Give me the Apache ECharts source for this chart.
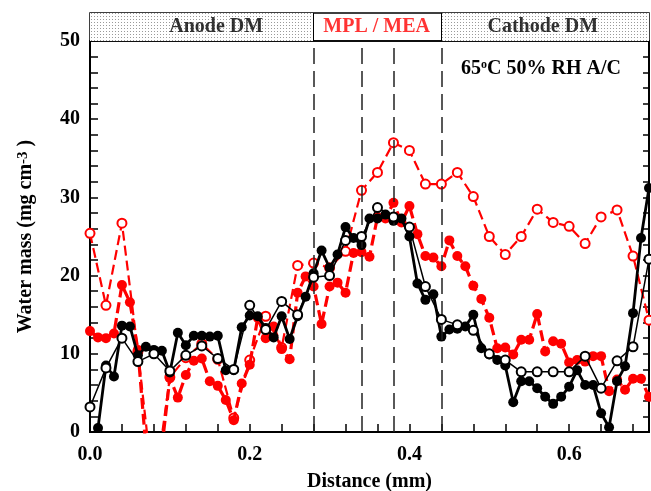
<!DOCTYPE html>
<html>
<head>
<meta charset="utf-8">
<script src="https://cdn.jsdelivr.net/npm/echarts@6/dist/echarts.min.js"></script>
<style>
  html, body { margin: 0; padding: 0; background: #fff; }
  #chart { width: 651px; height: 491px; }
</style>
</head>
<body>
<div id="chart"></div>
<script>
// distances (mm) for the 0.01 mm profiles
const xRedFilled = [0.00, 0.01, 0.02, 0.03, 0.04, 0.05, 0.06, 0.07, 0.08, 0.09,
  0.10, 0.11, 0.12, 0.13, 0.14, 0.15, 0.16, 0.17, 0.18, 0.19,
  0.20, 0.21, 0.22, 0.23, 0.24, 0.25, 0.26, 0.27, 0.28, 0.29,
  0.30, 0.31, 0.32, 0.33, 0.34, 0.35, 0.36, 0.37, 0.38, 0.39,
  0.40, 0.41, 0.42, 0.43, 0.44, 0.45, 0.46, 0.47, 0.48, 0.49,
  0.50, 0.51, 0.52, 0.53, 0.54, 0.55, 0.56, 0.57, 0.58, 0.59,
  0.60, 0.61, 0.62, 0.63, 0.64, 0.65, 0.66, 0.67, 0.68, 0.69, 0.70];
const xBlackFilled = xRedFilled.slice(1);
// distances (mm) for the 0.02 mm profiles
const xOpen = [0.00, 0.02, 0.04, 0.06, 0.08, 0.10, 0.12, 0.14, 0.16, 0.18,
  0.20, 0.22, 0.24, 0.26, 0.28, 0.30, 0.32, 0.34, 0.36, 0.38,
  0.40, 0.42, 0.44, 0.46, 0.48, 0.50, 0.52, 0.54, 0.56, 0.58,
  0.60, 0.62, 0.64, 0.66, 0.68, 0.70];

// water mass (mg cm-3)
const blackFilled = [0.5, 8.5, 7.1, 13.6, 13.5, 9.8, 10.9, 10.5, 10.4,
  7.6, 12.7, 11.1, 12.3, 12.3, 12.2, 12.3, 7.9, 7.9, 13.4,
  14.9, 14.8, 13.3, 12.1, 14.8, 11.9, 14.8, 17.3, 20.3, 23.2,
  21.0, 22.7, 26.2, 24.8, 23.9, 27.3, 27.3, 27.8, 27.0, 27.3,
  25.0, 19.0, 16.9, 17.6, 12.2, 13.1, 13.2, 13.5, 15.0, 10.7,
  9.9, 9.2, 8.5, 3.8, 6.5, 6.5, 5.6, 4.5, 3.6, 4.5,
  5.8, 7.9, 6.0, 6.0, 2.4, 0.6, 6.5, 8.4, 15.2, 24.8, 31.2];
const blackOpen = [3.2, 8.2, 12.0, 9.0, 10.0, 7.8, 9.8, 11.0, 9.4, 8.0,
  16.2, 13.1, 16.7, 15.0, 19.8, 20.0, 24.5, 25.0, 28.7, 27.5,
  26.2, 18.6, 14.4, 13.7, 13.0, 10.0, 9.2, 7.7, 7.7, 7.7,
  7.7, 9.7, 5.6, 9.1, 10.9, 22.1];
const redFilled = [12.9, 12.1, 12.0, 12.6, 18.8, 16.6, 10.5, -2, -10, -2,
  6.9, 4.4, 7.3, 9.1, 9.4, 6.5, 5.9, 4.1, 1.5, 6.2,
  8.6, 14.6, 12.0, 13.5, 10.6, 9.3, 17.8, 19.9, 18.6, 13.8,
  18.6, 19.1, 17.8, 22.9, 23.0, 22.4, 27.5, 27.3, 29.3, 26.8,
  28.9, 25.3, 22.5, 22.3, 21.2, 24.5, 22.5, 21.2, 18.7, 17.0,
  14.6, 10.7, 10.8, 9.9, 11.8, 11.8, 15.1, 10.3, 11.6, 11.3,
  8.9, 9.2, 9.0, 9.7, 9.7, 5.2, 6.7, 5.4, 6.8, 6.8, 4.5];
const redOpen = [25.4, 16.2, 26.7, 10.3, -8, 7.0, 9.5, 11.3, 9.3, 1.8,
  9.2, 14.8, 10.8, 21.3, 21.6, 21.0, 23.1, 30.9, 33.2, 37.0,
  36.0, 31.7, 31.7, 33.2, 30.1, 25.0, 22.7, 25.0, 28.5, 26.8,
  26.3, 24.1, 27.5, 28.4, 22.5, 14.3];

// region boundaries and header
const dashedX = [0.28, 0.34, 0.38, 0.44];
const regionEdges = [0.28, 0.44];
const headerNames = ['Anode DM', 'MPL / MEA', 'Cathode DM'];
const headerCenters = [0.158, 0.359, 0.567];
const headerColors = ['#000', '#ff0000', '#000'];

const FONT = '"Liberation Serif", "Times New Roman", serif';
const RED = '#ff0000';

const pair = (xs, ys) => xs.map((x, i) => [x, ys[i]]);

// small dotted texture for the DM header cells
const dots = document.createElement('canvas');
dots.width = 3;
dots.height = 3;
const dctx = dots.getContext('2d');
dctx.fillStyle = '#fff';
dctx.fillRect(0, 0, 3, 3);
dctx.fillStyle = '#9a9a9a';
dctx.fillRect(1, 1, 1, 1);

const chart = echarts.init(document.getElementById('chart'), null, { renderer: 'canvas' });

const boldText = { fontFamily: FONT, fontWeight: 'bold', fontSize: 20, color: '#000' };

chart.setOption({
  animation: false,
  backgroundColor: '#fff',
  title: {
    text: '{a|65}{s|o}{a|C 50% RH A/C}',
    left: 456,
    top: 54,
    textStyle: {
      rich: {
        a: { ...boldText },
        s: { fontFamily: FONT, fontWeight: 'bold', fontSize: 12, color: '#000', verticalAlign: 'top' },
      },
    },
  },
  grid: [
    { left: 90, right: 2, top: 41, bottom: 59, outerBoundsMode: 'none', containLabel: false,
      show: true, borderColor: '#000', borderWidth: 1.5 },
    { left: 90, right: 2, top: 13, height: 28, outerBoundsMode: 'none', containLabel: false,
      show: true, borderColor: '#000', borderWidth: 1.5, backgroundColor: 'transparent' },
  ],
  xAxis: [
    {
      type: 'value',
      gridIndex: 0,
      min: 0,
      max: 0.7,
      interval: 0.04,
      axisLine: { lineStyle: { color: '#000', width: 2 } },
      axisTick: { inside: true, length: 8, lineStyle: { color: '#000', width: 1.5 } },
      axisLabel: {
        ...boldText,
        margin: 13,
        formatter(v) {
          const k = v * 5;
          return Math.abs(k - Math.round(k)) < 1e-6 ? v.toFixed(1) : '';
        },
      },
      splitLine: { show: false },
      name: 'Distance (mm)',
      nameLocation: 'middle',
      nameGap: 40,
      nameTextStyle: { ...boldText },
    },
    { type: 'value', gridIndex: 1, min: 0, max: 0.7, show: false },
  ],
  yAxis: [
    {
      type: 'value',
      gridIndex: 0,
      min: 0,
      max: 50,
      interval: 10,
      axisLine: { show: true, lineStyle: { color: '#000', width: 2 } },
      axisTick: { inside: true, length: 8, lineStyle: { color: '#000', width: 1.5 } },
      minorTick: { show: true, splitNumber: 5, length: 8, lineStyle: { color: '#000', width: 1.5 } },
      axisLabel: { ...boldText, margin: 10 },
      splitLine: { show: false },
      name: 'Water mass (mg cm{s|-3}{a| )}',
      nameLocation: 'middle',
      nameGap: 54,
      nameTextStyle: {
        ...boldText,
        rich: {
          a: { ...boldText },
          s: { fontFamily: FONT, fontWeight: 'bold', fontSize: 15, color: '#000', verticalAlign: 'top' },
        },
      },
    },
    {
      type: 'value',
      gridIndex: 0,
      position: 'right',
      min: 0,
      max: 50,
      interval: 10,
      axisLine: { show: true, lineStyle: { color: '#000', width: 2 } },
      axisTick: { inside: true, length: 6, lineStyle: { color: '#000', width: 1.5 } },
      minorTick: { show: true, splitNumber: 5, length: 6, lineStyle: { color: '#000', width: 1.5 } },
      axisLabel: { show: false },
      splitLine: { show: false },
    },
    { type: 'value', gridIndex: 1, min: 0, max: 1, show: false },
  ],
  series: [
    {
      name: 'header',
      type: 'scatter',
      xAxisIndex: 1,
      yAxisIndex: 2,
      symbolSize: 0,
      silent: true,
      z: 5,
      data: headerNames.map((n, i) => ({
        name: n,
        value: [headerCenters[i], 0.5],
        label: { color: headerColors[i] },
      })),
      label: {
        show: true,
        position: 'inside',
        formatter: (p) => p.name,
        fontFamily: FONT,
        fontWeight: 'bold',
        fontSize: 20,
      },
      markArea: {
        silent: true,
        itemStyle: { color: { image: dots, repeat: 'repeat' } },
        label: { show: false },
        data: [
          [{ xAxis: 0 }, { xAxis: regionEdges[0] }],
          [{ xAxis: regionEdges[1] }, { xAxis: 0.7 }],
        ],
      },
      markLine: {
        silent: true,
        symbol: 'none',
        label: { show: false },
        lineStyle: { color: '#000', width: 1, type: 'solid' },
        data: regionEdges.map((x) => ({ xAxis: x })),
      },
    },
    {
      name: 'boundaries',
      type: 'line',
      data: [],
      markLine: {
        silent: true,
        symbol: 'none',
        label: { show: false },
        lineStyle: { color: '#222', width: 1.5, type: [16, 7] },
        data: dashedX.map((x) => ({ xAxis: x })),
      },
    },
    {
      name: 'red open',
      type: 'line',
      data: pair(xOpen, redOpen),
      symbol: 'emptyCircle',
      symbolSize: 9,
      lineStyle: { color: RED, width: 2.2, type: [10, 5] },
      itemStyle: { color: RED, borderColor: RED, borderWidth: 1.5 },
      z: 2,
    },
    {
      name: 'red filled',
      type: 'line',
      data: pair(xRedFilled, redFilled),
      symbol: 'circle',
      symbolSize: 10,
      lineStyle: { color: RED, width: 3.2, type: [11, 5] },
      itemStyle: { color: RED },
      z: 3,
    },
    {
      name: 'black filled',
      type: 'line',
      data: pair(xBlackFilled, blackFilled),
      symbol: 'circle',
      symbolSize: 10,
      lineStyle: { color: '#000', width: 2.8 },
      itemStyle: { color: '#000' },
      z: 4,
    },
    {
      name: 'black open',
      type: 'line',
      data: pair(xOpen, blackOpen),
      symbol: 'emptyCircle',
      symbolSize: 9,
      lineStyle: { color: '#000', width: 1.5 },
      itemStyle: { color: '#000', borderColor: '#000', borderWidth: 1.5 },
      z: 5,
    },
  ],
});
</script>
</body>
</html>
